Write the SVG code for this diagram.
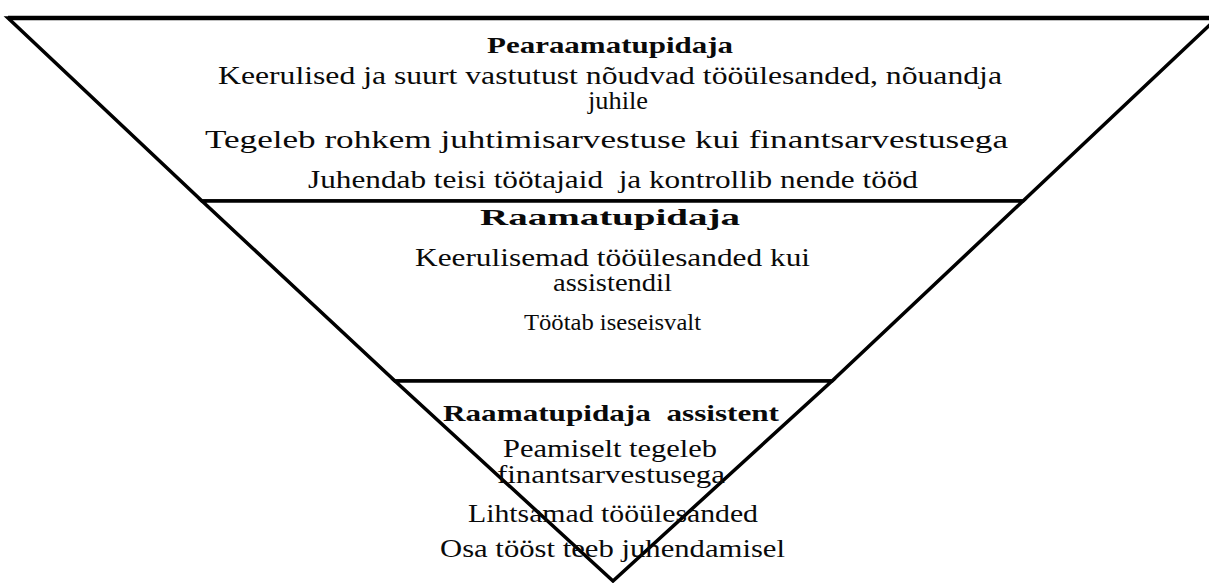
<svg xmlns="http://www.w3.org/2000/svg" width="1209" height="583" viewBox="0 0 1209 583">
<style>
.shape{fill:#ffffff;stroke:#000000;stroke-width:3.5;stroke-linejoin:miter}
.edge{stroke:#000000;stroke-width:4.5;fill:none}
.t{font-family:"Liberation Serif","Times New Roman",serif;font-size:26px;fill:#0a0a0a;text-anchor:start;white-space:pre}
.b{font-weight:bold;font-size:24px}
</style>
<rect x="0" y="0" width="1209" height="583" fill="#ffffff"/>
<g id="level-top">
<polygon class="shape" points="8,18 1217,18 1023,201 202,201"/>
<line class="edge" x1="8" y1="18" x2="1209" y2="18"/>
<text class="t b" x="487" y="53" textLength="246" lengthAdjust="spacingAndGlyphs">Pearaamatupidaja</text>
<text class="t" x="218" y="84" textLength="784" lengthAdjust="spacingAndGlyphs">Keerulised ja suurt vastutust nõudvad tööülesanded, nõuandja</text>
<text class="t" x="588" y="109" textLength="60" lengthAdjust="spacingAndGlyphs">juhile</text>
<text class="t" x="205" y="148" textLength="803" lengthAdjust="spacingAndGlyphs">Tegeleb rohkem juhtimisarvestuse kui finantsarvestusega</text>
<text class="t" x="308" y="188" textLength="610" lengthAdjust="spacingAndGlyphs">Juhendab teisi töötajaid  ja kontrollib nende tööd</text>
</g>
<g id="level-middle">
<polygon class="shape" points="202,201 1023,201 832,381 395,381"/>
<text class="t b" x="480" y="225" textLength="260" lengthAdjust="spacingAndGlyphs">Raamatupidaja</text>
<text class="t" x="415" y="266" textLength="395" lengthAdjust="spacingAndGlyphs">Keerulisemad tööülesanded kui</text>
<text class="t" x="553" y="291" textLength="119" lengthAdjust="spacingAndGlyphs">assistendil</text>
<text class="t" x="524" y="330" textLength="177" lengthAdjust="spacingAndGlyphs" style="font-size:24px">Töötab iseseisvalt</text>
</g>
<g id="level-bottom">
<polygon class="shape" points="395,381 832,381 613,581"/>
<text class="t b" x="443" y="421" textLength="336" lengthAdjust="spacingAndGlyphs">Raamatupidaja  assistent</text>
<text class="t" x="503" y="457" textLength="214" lengthAdjust="spacingAndGlyphs">Peamiselt tegeleb</text>
<text class="t" x="497" y="483" textLength="228" lengthAdjust="spacingAndGlyphs">finantsarvestusega</text>
<text class="t" x="468" y="522" textLength="290" lengthAdjust="spacingAndGlyphs">Lihtsamad tööülesanded</text>
<text class="t" x="440" y="557" textLength="345" lengthAdjust="spacingAndGlyphs">Osa tööst teeb juhendamisel</text>
</g>
<g id="connectors"></g>
</svg>
